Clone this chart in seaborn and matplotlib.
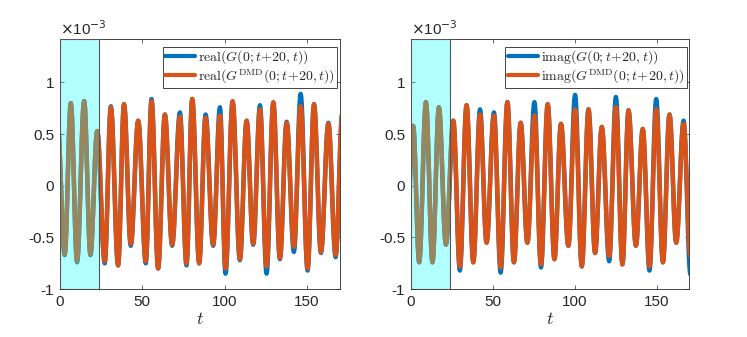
import numpy as np
import pandas as pd
import seaborn as sns
import matplotlib
matplotlib.use("Agg")
import matplotlib.pyplot as plt
from matplotlib.patches import Rectangle
from matplotlib.lines import Line2D

# extrema (values in units of 1e-3)
t_re = [-1.5, 3.0, 6.7, 10.5, 14.8, 18.6, 22.7, 27.3, 31.0, 35.4, 39.0, 43.1, 47.6, 52.2,
        55.7, 59.7, 63.8, 68.2, 72.9, 76.9, 80.4, 84.6, 88.5, 93.1, 97.2, 100.6, 104.9,
        109.3, 113.4, 117.4, 121.5, 125.5, 129.6, 133.6, 137.7, 142.1, 146.2, 150.4,
        154.3, 158.5, 163.0, 167.4, 171.5]
re_true = [0.66, -0.67, 0.80, -0.74, 0.82, -0.67, 0.53, -0.75, 0.77, -0.77, 0.79, -0.58,
           0.63, -0.75, 0.84, -0.80, 0.69, -0.58, 0.71, -0.77, 0.84, -0.75, 0.69, -0.58,
           0.76, -0.85, 0.81, -0.72, 0.63, -0.57, 0.78, -0.85, 0.80, -0.71, 0.62, -0.64,
           0.89, -0.82, 0.79, -0.65, 0.61, -0.69, 0.70]
re_dmd = [0.66, -0.66, 0.80, -0.73, 0.82, -0.66, 0.53, -0.73, 0.76, -0.77, 0.79, -0.56,
          0.63, -0.73, 0.82, -0.80, 0.69, -0.57, 0.67, -0.75, 0.84, -0.75, 0.66, -0.57,
          0.68, -0.80, 0.82, -0.71, 0.63, -0.56, 0.74, -0.78, 0.81, -0.70, 0.61, -0.59,
          0.77, -0.80, 0.79, -0.64, 0.60, -0.67, 0.70]

t_im = [-2.6, 1.4, 5.1, 9.2, 13.2, 17.1, 21.4, 25.9, 29.9, 34.0, 38.1, 42.2, 46.2, 50.7,
        54.8, 58.9, 62.9, 67.0, 71.1, 75.4, 79.4, 83.5, 87.6, 91.6, 96.1, 100.2, 104.3,
        108.4, 112.4, 116.5, 121.0, 125.1, 129.1, 132.8, 137.3, 141.5, 145.6, 149.7,
        153.8, 157.8, 161.9, 166.4, 170.6]
im_true = [-0.50, 0.58, -0.74, 0.81, -0.74, 0.76, -0.57, 0.63, -0.82, 0.78, -0.74, 0.74,
           -0.55, 0.71, -0.84, 0.81, -0.74, 0.61, -0.55, 0.81, -0.79, 0.79, -0.71, 0.60,
           -0.58, 0.88, -0.78, 0.74, -0.65, 0.57, -0.73, 0.86, -0.76, 0.73, -0.58, 0.55,
           -0.82, 0.84, -0.74, 0.69, -0.55, 0.63, -0.86]
im_dmd = [-0.50, 0.58, -0.74, 0.81, -0.74, 0.76, -0.57, 0.63, -0.78, 0.78, -0.74, 0.69,
          -0.55, 0.68, -0.79, 0.81, -0.74, 0.61, -0.55, 0.68, -0.76, 0.79, -0.71, 0.60,
          -0.58, 0.74, -0.78, 0.74, -0.65, 0.57, -0.68, 0.76, -0.76, 0.73, -0.58, 0.55,
          -0.78, 0.74, -0.74, 0.69, -0.55, 0.60, -0.68]

train_end = 24
blue = "#0072BD"
orange = "#D95319"


def smooth(tk, vk, n=12):
    # draw half-cosine arcs between consecutive extrema
    ts, vs = [], []
    for i in range(len(tk) - 1):
        s = np.linspace(0, 1, n, endpoint=False)
        ts.append(tk[i] + (tk[i + 1] - tk[i]) * s)
        vs.append(vk[i] + (vk[i + 1] - vk[i]) * (1 - np.cos(np.pi * s)) / 2)
    ts.append([tk[-1]])
    vs.append([vk[-1]])
    return np.concatenate(ts), np.concatenate(vs)


sns.set_style("ticks")
plt.rcParams["font.family"] = ["Liberation Sans", "DejaVu Sans"]
plt.rcParams["mathtext.fontset"] = "cm"
plt.rcParams["axes.unicode_minus"] = False
plt.rcParams["xtick.direction"] = "in"
plt.rcParams["ytick.direction"] = "in"

fig = plt.figure(figsize=(7.47, 3.37), dpi=100)
ax1 = fig.add_axes([0.080, 0.142, 0.375, 0.742])
ax2 = fig.add_axes([0.550, 0.142, 0.373, 0.742])

panels = [
    (ax1, t_re, re_true, re_dmd, "real"),
    (ax2, t_im, im_true, im_dmd, "imag"),
]

for ax, tk, v1, v2, fn in panels:
    ta, va = smooth(tk, v1)
    tb, vb = smooth(tk, v2)
    df = pd.concat([
        pd.DataFrame({"t": ta, "G": va, "s": "true"}),
        pd.DataFrame({"t": tb, "G": vb, "s": "dmd"}),
    ])
    sns.lineplot(data=df, x="t", y="G", hue="s", palette={"true": blue, "dmd": orange},
                 linewidth=3.2, ax=ax, legend=False, estimator=None, sort=False)
    ax.add_patch(Rectangle((0, -1), train_end, 2.42, facecolor="cyan", alpha=0.3,
                           edgecolor="none", zorder=5))
    ax.add_patch(Rectangle((0, -1), train_end, 2.42, facecolor="none",
                           edgecolor="#555555", linewidth=0.8, zorder=6))
    ax.set_xlim(0, 170)
    ax.set_ylim(-1, 1.42)
    ax.set_xticks([0, 50, 100, 150])
    ax.set_yticks([-1, -0.5, 0, 0.5, 1])
    ax.set_yticklabels(["-1", "-0.5", "0", "0.5", "1"])
    ax.set_xlabel("$t$", fontsize=13, labelpad=2)
    ax.set_ylabel("")
    ax.tick_params(labelsize=11, top=True, right=True, length=3, width=0.5,
                   color="#262626", labelcolor="#262626", pad=4)
    for sp in ax.spines.values():
        sp.set_visible(True)
        sp.set_linewidth(0.6)
        sp.set_color("#262626")
    ax.text(0, 1.005, r"$\times$10$^{\mathsf{-3}}$", transform=ax.transAxes,
            fontsize=11, color="#262626", ha="left", va="bottom",
            math_fontfamily="dejavusans")
    handles = [Line2D([], [], color=blue, lw=3), Line2D([], [], color=orange, lw=3)]
    labels = [r"$\mathrm{%s}(G(0;t\!+\!20,t))$" % fn,
              r"$\mathrm{%s}(G^{\mathrm{DMD}}(0;t\!+\!20,t))$" % fn]
    leg = ax.legend(handles, labels, loc="upper right", bbox_to_anchor=(0.99, 0.97),
                    borderaxespad=0, fontsize=10, fancybox=False, framealpha=1,
                    edgecolor="#262626", handlelength=2.2, handletextpad=0.2,
                    borderpad=0.15, labelspacing=0.05)
    leg.get_frame().set_linewidth(0.6)
    leg.set_zorder(10)

fig.savefig("out.png", dpi=100)
